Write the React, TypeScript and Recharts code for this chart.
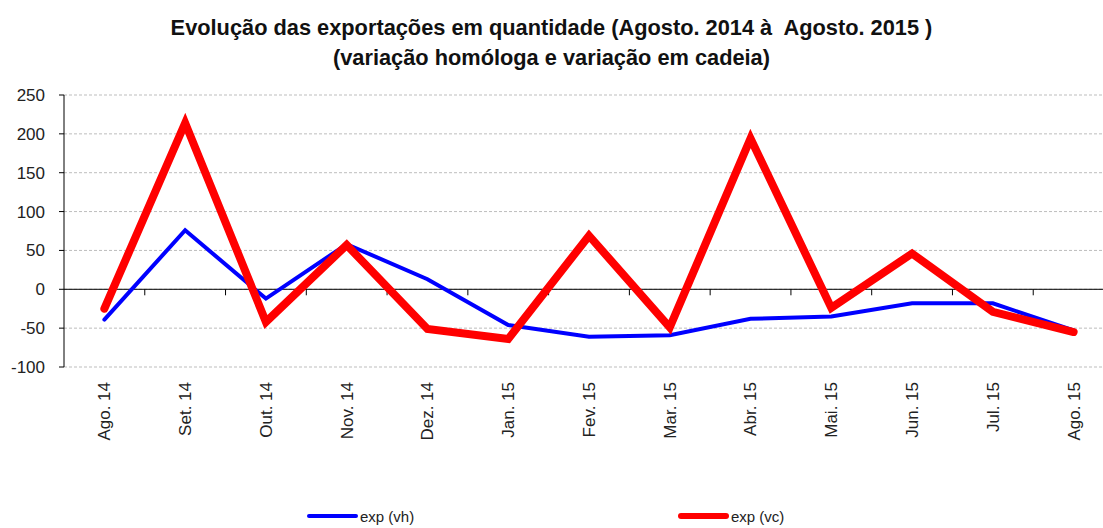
import React from "react";
import { LineChart, Line, XAxis, YAxis, CartesianGrid, ReferenceLine, Legend } from "recharts";

const months = [
  "Ago. 14", "Set. 14", "Out. 14", "Nov. 14", "Dez. 14", "Jan. 15", "Fev. 15",
  "Mar. 15", "Abr. 15", "Mai. 15", "Jun. 15", "Jul. 15", "Ago. 15",
];
const expVh = [-39, 76, -12, 58, 13, -46, -61, -59, -38, -35, -18, -18, -53];
const expVc = [-25, 214, -42, 57, -51, -64, 69, -49, 194, -24, 46, -29, -55];
const yTicks = [-100, -50, 0, 50, 100, 150, 200, 250];

const data = months.map((m, i) => ({ name: m, vh: expVh[i], vc: expVc[i] }));

const titleFont = "Arial, 'Liberation Sans', sans-serif";
const axisFont = "Arial, 'Liberation Sans', sans-serif";

// zero line with small tick marks at the category boundaries
const ZeroAxis = (props: any) => {
  const { x1, x2, y1 } = props;
  const step = (x2 - x1) / months.length;
  const marks = [];
  for (let k = 1; k < months.length; k++) {
    const x = x1 + step * k;
    marks.push(<line key={k} x1={x} x2={x} y1={y1} y2={y1 + 6} stroke="#000" strokeWidth={1} />);
  }
  return (
    <g>
      <line x1={x1} x2={x2} y1={y1} y2={y1} stroke="#000" strokeWidth={1} />
      {marks}
    </g>
  );
};

const MonthTick = ({ x, y, payload }: any) => (
  <g transform={`translate(${x},${y})`}>
    <text transform="rotate(-90)" textAnchor="end" dy="0.35em" fontSize={17} fill="#222" fontFamily={axisFont}>
      {payload.value}
    </text>
  </g>
);

const LegendBox = () => (
  <div style={{ position: "relative", width: 1103, height: 20, fontFamily: axisFont, fontSize: 15, color: "#222" }}>
    {[
      { left: 307, color: "#0000ff", h: 4, label: "exp (vh)" },
      { left: 678, color: "#ff0000", h: 6, label: "exp (vc)" },
    ].map((it) => (
      <div key={it.label} style={{ position: "absolute", left: it.left, top: 0, display: "flex", alignItems: "center", height: 20 }}>
        <div style={{ width: 51, height: it.h, background: it.color, borderRadius: it.h }} />
        <span style={{ marginLeft: 2 }}>{it.label}</span>
      </div>
    ))}
  </div>
);

export default function App() {
  return (
    <div style={{ position: "absolute", left: 0, top: 0, width: 1103, height: 528, overflow: "hidden", background: "#fff" }}>
      <div style={{ position: "absolute", left: 0, top: 13, width: 1103, textAlign: "center", fontFamily: titleFont, fontWeight: "bold", fontSize: 22, lineHeight: "30px", color: "#111", transform: "scaleX(0.99)", transformOrigin: "551px 0" }}>
        <div>Evolução das exportações em quantidade (Agosto. 2014 à&nbsp; Agosto. 2015 )</div>
        <div>(variação homóloga e variação em cadeia)</div>
      </div>
      <LineChart width={1116} height={528} data={data} margin={{ top: 95, right: 2, bottom: 61, left: 4 }}>
        <CartesianGrid vertical={false} stroke="#bdbdbd" strokeDasharray="3 2" />
        <XAxis
          dataKey="name"
          scale="band"
          axisLine={false}
          tickLine={false}
          tickSize={0}
          tickMargin={15}
          interval={0}
          height={80}
          tick={<MonthTick />}
        />
        <YAxis
          domain={[-100, 250]}
          ticks={yTicks}
          width={60}
          interval={0}
          axisLine={{ stroke: "#000" }}
          tickLine={{ stroke: "#000" }}
          tickSize={5}
          tickMargin={14}
          tick={{ fontSize: 17, fill: "#222", fontFamily: axisFont }}
        />
        <ReferenceLine y={0} shape={<ZeroAxis />} />
        <Line dataKey="vh" name="exp (vh)" stroke="#0000ff" strokeWidth={4} dot={false} strokeLinecap="round" isAnimationActive={false} />
        <Line dataKey="vc" name="exp (vc)" stroke="#ff0000" strokeWidth={8} dot={false} strokeLinecap="round" isAnimationActive={false} />
        <Legend content={<LegendBox />} wrapperStyle={{ top: 506, left: 0, width: 1103 }} />
      </LineChart>
    </div>
  );
}
